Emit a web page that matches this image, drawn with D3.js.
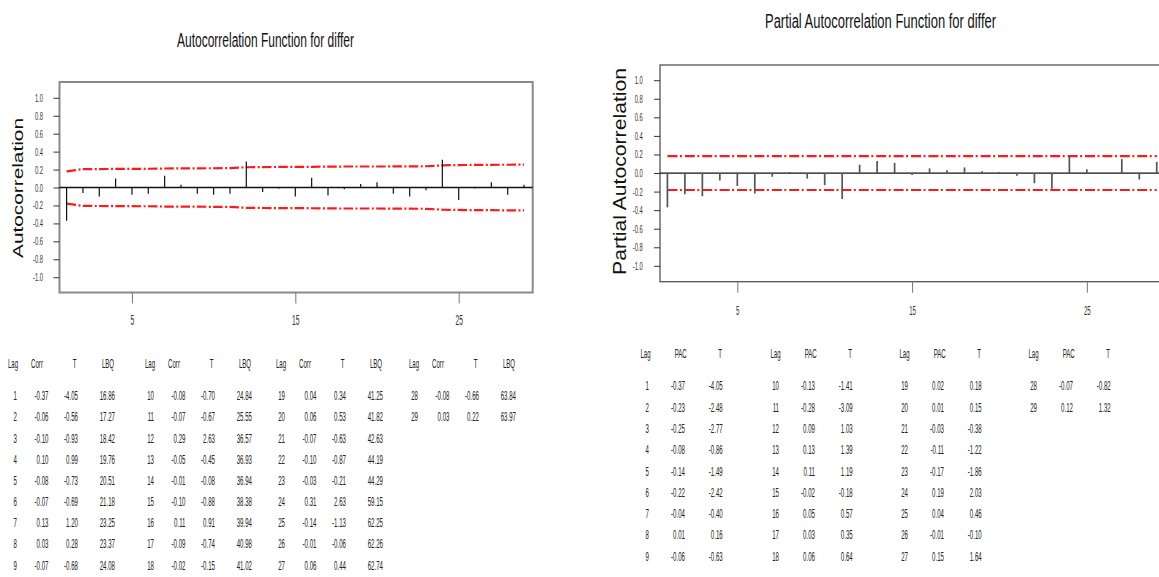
<!DOCTYPE html>
<html>
<head>
<meta charset="utf-8">
<script src="https://cdn.jsdelivr.net/npm/d3@7"></script>
<style>
    body { margin: 0; background: #fff; }
    svg { display: block; font-family: "Liberation Sans", Arial, sans-serif; }
</style>
</head>
<body>
<svg id="chart" width="1159" height="577"></svg>
<script>
// valores
const lags = [1,2,3,4,5,6,7,8,9,10,11,12,13,14,15,16,17,18,19,20,21,22,23,24,25,26,27,28,29];
const acfCorr = [-0.37,-0.06,-0.10,0.10,-0.08,-0.07,0.13,0.03,-0.07,-0.08,-0.07,0.29,-0.05,-0.01,-0.10,0.11,-0.09,-0.02,0.04,0.06,-0.07,-0.10,-0.03,0.31,-0.14,-0.01,0.06,-0.08,0.03];
const acfT = [-4.05,-0.56,-0.93,0.99,-0.73,-0.69,1.20,0.28,-0.68,-0.70,-0.67,2.63,-0.45,-0.08,-0.88,0.91,-0.74,-0.15,0.34,0.53,-0.63,-0.87,-0.21,2.63,-1.13,-0.06,0.44,-0.66,0.22];
const acfLBQ = [16.86,17.27,18.42,19.76,20.51,21.18,23.25,23.37,24.08,24.84,25.55,36.57,36.93,36.94,38.38,39.94,40.98,41.02,41.25,41.82,42.63,44.19,44.29,59.15,62.25,62.26,62.74,63.84,63.97];
// limites de confianza del ACF (estimados del grafico)
const acfLimit = [0.18,0.205,0.206,0.207,0.208,0.209,0.212,0.213,0.214,0.215,0.216,0.226,0.228,0.229,0.23,0.231,0.233,0.234,0.234,0.234,0.235,0.236,0.237,0.247,0.25,0.252,0.253,0.254,0.255];

const pacfVal = [-0.37,-0.23,-0.25,-0.08,-0.14,-0.22,-0.04,0.01,-0.06,-0.13,-0.28,0.09,0.13,0.11,-0.02,0.05,0.03,0.06,0.02,0.01,-0.03,-0.11,-0.17,0.19,0.04,-0.01,0.15,-0.07,0.12];
const pacfT = [-4.05,-2.48,-2.77,-0.86,-1.49,-2.42,-0.40,0.16,-0.63,-1.41,-3.09,1.03,1.39,1.19,-0.18,0.57,0.35,0.64,0.18,0.15,-0.38,-1.22,-1.86,2.03,0.46,-0.10,1.64,-0.82,1.32];
const pacfLimit = 0.183;

const yTicks = [-1.0,-0.8,-0.6,-0.4,-0.2,0.0,0.2,0.4,0.6,0.8,1.0];
const xTicks = [5,15,25];
const acfHeaders = ['Lag','Corr','T','LBQ'];
const pacfHeaders = ['Lag','PAC','T'];

const svg = d3.select('#chart');

function drawPanel(p) {
    const x = d3.scaleLinear().domain(p.xDomain).range(p.xRange);
    const y = d3.scaleLinear().domain(p.yDomain).range(p.yRange);
    const g = svg.append('g');

    // marco
    g.append('rect')
        .attr('x', p.xRange[0]).attr('y', p.yRange[1])
        .attr('width', p.xRange[1] - p.xRange[0])
        .attr('height', p.yRange[0] - p.yRange[1])
        .attr('fill', 'none')
        .attr('stroke', p.frameColor)
        .attr('stroke-width', p.frameWidth);

    // eje y
    const yAxis = g.append('g')
        .attr('transform', `translate(${p.xRange[0]},0)`)
        .call(d3.axisLeft(y).tickValues(yTicks).tickSize(6).tickFormat(d => d.toFixed(1)));
    yAxis.select('.domain').remove();
    yAxis.selectAll('line').attr('stroke', '#333');
    yAxis.selectAll('text')
        .attr('font-size', 10)
        .attr('fill', '#333')
        .attr('x', -p.yLabelGap / 0.58)
        .attr('dy', '0.35em')
        .attr('transform', 'scale(0.58,1)');

    // eje x
    const xAxis = g.append('g')
        .attr('transform', `translate(0,${p.yRange[0]})`)
        .call(d3.axisBottom(x).tickValues(xTicks).tickSize(11));
    xAxis.select('.domain').remove();
    xAxis.selectAll('line').attr('stroke', '#777');
    xAxis.selectAll('text')
        .attr('font-size', p.xFont)
        .attr('fill', '#333')
        .attr('y', p.xLabelY)
        .attr('dy', 0)
        .attr('transform', `scale(${p.xScaleX},1)`);

    // linea cero
    g.append('line')
        .attr('x1', p.xRange[0]).attr('x2', p.xRange[1])
        .attr('y1', y(0)).attr('y2', y(0))
        .attr('stroke', '#111')
        .attr('stroke-width', p.zeroWidth);

    // limites
    const line = d3.line().x(d => x(d[0])).y(d => y(d[1]));
    [1, -1].forEach(s => {
        g.append('path')
            .datum(p.limits.map(d => [d[0], s * d[1]]))
            .attr('d', line)
            .attr('fill', 'none')
            .attr('stroke', '#ff1a1a')
            .attr('stroke-width', 2.2)
            .attr('stroke-dasharray', p.dash);
    });

    // barras
    g.selectAll('line.bar')
        .data(p.values)
        .enter()
        .append('line')
        .attr('class', 'bar')
        .attr('x1', (d, i) => x(lags[i])).attr('x2', (d, i) => x(lags[i]))
        .attr('y1', y(0)).attr('y2', d => y(d))
        .attr('stroke', p.barColor)
        .attr('stroke-width', p.barWidth);

    // titulo del eje y
    g.append('text')
        .attr('transform', `translate(${p.yTitle.x},${p.yTitle.y}) rotate(-90)`)
        .attr('text-anchor', 'middle')
        .attr('font-size', p.yTitle.size)
        .attr('textLength', p.yTitle.len)
        .attr('lengthAdjust', 'spacingAndGlyphs')
        .attr('fill', '#111')
        .text(p.yTitle.text);

    // titulo
    g.append('text')
        .attr('x', p.title.x).attr('y', p.title.y)
        .attr('text-anchor', 'middle')
        .attr('font-size', p.title.size)
        .attr('textLength', p.title.len)
        .attr('lengthAdjust', 'spacingAndGlyphs')
        .attr('fill', '#111')
        .text(p.title.text);
}

function cell(g, x, y, txt, anchor) {
    g.append('text')
        .attr('transform', `translate(${x},${y}) scale(0.47,1)`)
        .attr('text-anchor', anchor)
        .attr('font-size', 13)
        .attr('fill', '#222')
        .text(txt);
}

function drawTable(t) {
    const g = svg.append('g');
    t.groupBase.forEach((base, gi) => {
        t.headers.forEach((h, ci) => {
            cell(g, t.x0 + base + t.headerX[ci], t.headerY + 4.6, h, 'middle');
        });
        for (let r = 0; r < 9; r++) {
            const idx = gi * 9 + r;
            if (idx >= lags.length) break;
            const yy = t.row1Y + r * t.rowStep + 4.6;
            t.columns.forEach((col, ci) => {
                cell(g, t.x0 + base + t.valueX[ci], yy, col[idx], 'end');
            });
        }
    });
}

drawPanel({
    xDomain: [0.565, 29.53], xRange: [59.5, 532.7],
    yDomain: [-1.17, 1.176], yRange: [292.5, 82],
    frameColor: '#8a8a8a', frameWidth: 2,
    yLabelGap: 16.5, xFont: 15, xScaleX: 0.45, xLabelY: 33,
    zeroWidth: 1.6,
    limits: lags.map((l, i) => [l, acfLimit[i]]),
    dash: '9.5,2.5,2,2.3',
    values: acfCorr, barColor: '#111', barWidth: 1.2,
    yTitle: { x: 23, y: 188, size: 15, len: 140, text: 'Autocorrelation' },
    title: { x: 265.5, y: 47, size: 20, len: 177, text: 'Autocorrelation Function for differ' }
});

drawPanel({
    xDomain: [0.576, 29.3], xRange: [660, 1162],
    yDomain: [-1.171, 1.164], yRange: [281.7, 65],
    frameColor: '#555', frameWidth: 1.3,
    yLabelGap: 17.3, xFont: 13, xScaleX: 0.47, xLabelY: 33.3,
    zeroWidth: 1.2,
    limits: [[lags[0], pacfLimit], [lags[lags.length - 1], pacfLimit]],
    dash: '10,2.5,2,2.9',
    values: pacfVal, barColor: '#555', barWidth: 1.7,
    yTitle: { x: 626, y: 171.5, size: 18.5, len: 207, text: 'Partial Autocorrelation' },
    title: { x: 880.5, y: 28, size: 20, len: 231, text: 'Partial Autocorrelation Function for differ' }
});

drawTable({
    x0: 0, headerY: 363.3, row1Y: 395.7, rowStep: 21.16,
    groupBase: [0, 137, 268, 401],
    headers: acfHeaders,
    headerX: [13, 37, 74.5, 108],
    valueX: [17, 48.5, 78, 115],
    columns: [lags.map(String), acfCorr.map(v => v.toFixed(2)), acfT.map(v => v.toFixed(2)), acfLBQ.map(v => v.toFixed(2))]
});

drawTable({
    x0: 630, headerY: 353.3, row1Y: 385.7, rowStep: 21.3,
    groupBase: [0, 130, 259, 388],
    headers: pacfHeaders,
    headerX: [15.5, 50.7, 90],
    valueX: [19, 55, 92.7],
    columns: [lags.map(String), pacfVal.map(v => v.toFixed(2)), pacfT.map(v => v.toFixed(2))]
});
</script>
</body>
</html>
